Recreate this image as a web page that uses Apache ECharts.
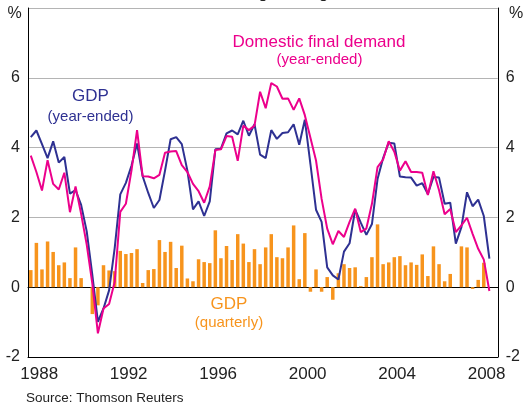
<!DOCTYPE html>
<html>
<head>
<meta charset="utf-8">
<script src="https://cdn.jsdelivr.net/npm/echarts@6/dist/echarts.min.js"></script>
<style>
  html, body { margin: 0; padding: 0; background: #fff; }
  #main { width: 523px; height: 407px; }
</style>
</head>
<body>
<div id="main"></div>
<script>
// year labels on the bottom axis, one category per year
const years = ['1988', '1989', '1990', '1991', '1992', '1993', '1994', '1995', '1996', '1997',
  '1998', '1999', '2000', '2001', '2002', '2003', '2004', '2005', '2006', '2007', '2008'];

// quarters 1988Q1 .. 2008Q4 (data ends at 2008Q3)
const quarters = [];
years.forEach(function (y) {
  ['Q1', 'Q2', 'Q3', 'Q4'].forEach(function (q) { quarters.push(y + q); });
});

// GDP, quarterly % change (bars)
const gdpQuarterly = [
  0.49, 1.27, 0.51, 1.31, 1.01, 0.63, 0.71, 0.26, 1.14, 0.26,
  0.00, -0.77, -0.52, 0.63, 0.48, 0.46, 1.04, 0.95, 0.98, 1.09,
  0.12, 0.49, 0.52, 1.35, 1.01, 1.30, 0.55, 1.19, 0.25, 0.17,
  0.80, 0.72, 0.69, 1.63, 0.83, 1.18, 0.78, 1.52, 1.25, 0.72,
  1.09, 0.66, 1.14, 1.52, 0.86, 0.83, 1.14, 1.77, 0.23, 1.55,
  -0.13, 0.51, -0.13, 0.29, -0.36, 0.40, 0.66, 0.55, 0.57, 0.03,
  0.29, 0.86, 1.80, 0.66, 0.71, 0.86, 0.89, 0.63, 0.71, 0.64,
  0.94, 0.32, 1.17, 0.66, 0.17, 0.38, 0.00, 1.17, 1.14, -0.05,
  0.21, 0.70, 0.00
];

// GDP, year-ended % change
const gdpYearEnded = [
  4.30, 4.49, 4.10, 3.70, 4.18, 3.57, 3.73, 2.68, 2.78, 2.36,
  1.60, 0.35, -0.99, -0.61, -0.09, 1.12, 2.66, 2.99, 3.48, 4.12,
  3.18, 2.70, 2.27, 2.50, 3.34, 4.24, 4.30, 4.10, 3.34, 2.23,
  2.46, 2.04, 2.46, 3.95, 3.97, 4.41, 4.49, 4.38, 4.77, 4.34,
  4.67, 3.80, 3.70, 4.50, 4.25, 4.42, 4.44, 4.67, 4.08, 4.80,
  3.53, 2.22, 1.87, 0.57, 0.34, 0.22, 1.02, 1.26, 2.22, 1.85,
  1.50, 1.81, 3.10, 3.70, 4.14, 4.12, 3.17, 3.15, 3.14, 2.91,
  2.98, 2.67, 3.16, 3.14, 2.39, 2.42, 1.25, 1.72, 2.72, 2.32,
  2.51, 2.04, 0.82
];

// Domestic final demand, year-ended % change
const dfdYearEnded = [
  3.77, 3.30, 2.77, 3.64, 2.96, 2.80, 3.28, 2.15, 2.89, 2.10,
  1.22, 0.10, -1.32, -0.61, -0.48, 0.15, 2.16, 2.39, 3.34, 4.50,
  3.18, 3.17, 3.12, 3.22, 3.85, 3.89, 3.90, 3.50, 3.30, 2.96,
  2.75, 2.42, 2.89, 3.93, 3.95, 4.33, 4.31, 3.62, 4.63, 4.50,
  4.63, 5.60, 5.13, 5.85, 5.75, 5.40, 5.41, 5.08, 5.41, 4.93,
  4.28, 3.63, 2.53, 1.68, 1.23, 1.61, 1.44, 1.87, 2.25, 1.58,
  1.68, 2.39, 3.44, 3.66, 4.18, 3.88, 3.34, 3.61, 3.30, 3.30,
  3.28, 2.64, 3.32, 2.78, 2.09, 2.24, 1.58, 1.77, 1.99, 1.53,
  1.10, 0.79, -0.11
];

const font = 'Liberation Sans, Arial, sans-serif';
const navy = '#2e3192';
const pink = '#ec008c';
const orange = '#f7941d';

const chart = echarts.init(document.getElementById('main'));

function yAxisOpt(pos, grid) {
  return {
    type: 'value',
    position: pos,
    min: -2,
    max: 8,
    interval: 2,
    axisLine: { show: true, lineStyle: { color: '#000', width: 1 } },
    axisTick: { show: false },
    axisLabel: {
      fontFamily: font, fontSize: 16, color: '#222', margin: 8,
      formatter: function (v) { return v === 8 ? '' : String(v); }
    },
    splitLine: { show: grid, lineStyle: { color: '#b4b4b4', width: 1 } }
  };
}

chart.setOption({
  animation: false,
  grid: { left: 28, right: 23, top: 8, bottom: 50 },
  xAxis: [
    {
      // quarterly axis for the data, only its line is shown (at zero)
      type: 'category',
      data: quarters,
      position: 'top',
      axisLine: { onZero: true, lineStyle: { color: '#000', width: 1 } },
      axisTick: { show: false },
      axisLabel: { show: false },
      splitLine: { show: false }
    },
    {
      type: 'category',
      data: years,
      position: 'bottom',
      axisLine: { onZero: false, lineStyle: { color: '#000', width: 1 } },
      axisTick: { inside: true, length: 5, interval: 0, lineStyle: { color: '#000' } },
      axisLabel: { interval: 3, fontFamily: font, fontSize: 17, color: '#222', margin: 9 },
      splitLine: { show: false }
    }
  ],
  yAxis: [yAxisOpt('left', true), yAxisOpt('right', false)],
  series: [
    {
      name: 'GDP (quarterly)',
      type: 'bar',
      xAxisIndex: 0,
      yAxisIndex: 0,
      data: gdpQuarterly,
      barWidth: 3.5,
      itemStyle: { color: orange },
      z: 2
    },
    {
      name: 'GDP (year-ended)',
      type: 'line',
      xAxisIndex: 0,
      yAxisIndex: 0,
      data: gdpYearEnded,
      symbol: 'none',
      lineStyle: { color: navy, width: 2 },
      z: 3
    },
    {
      name: 'Domestic final demand (year-ended)',
      type: 'line',
      xAxisIndex: 0,
      yAxisIndex: 0,
      data: dfdYearEnded,
      symbol: 'none',
      lineStyle: { color: pink, width: 2 },
      z: 4
    }
  ],
  graphic: [
    { type: 'text', x: 264, y: -6.5, style: { text: 'Percentage change', font: '17px ' + font, fill: '#222', align: 'center', verticalAlign: 'middle' } },
    { type: 'text', x: 14.5, y: 14, style: { text: '%', font: '16px ' + font, fill: '#222', align: 'center', verticalAlign: 'middle' } },
    { type: 'text', x: 516, y: 14, style: { text: '%', font: '16px ' + font, fill: '#222', align: 'center', verticalAlign: 'middle' } },
    { type: 'text', x: 319, y: 42, style: { text: 'Domestic final demand', font: '17px ' + font, fill: pink, align: 'center', verticalAlign: 'middle' } },
    { type: 'text', x: 319.5, y: 60, style: { text: '(year-ended)', font: '15px ' + font, fill: pink, align: 'center', verticalAlign: 'middle' } },
    { type: 'text', x: 90.5, y: 96, style: { text: 'GDP', font: '17px ' + font, fill: navy, align: 'center', verticalAlign: 'middle' } },
    { type: 'text', x: 90.5, y: 116.5, style: { text: '(year-ended)', font: '15px ' + font, fill: navy, align: 'center', verticalAlign: 'middle' } },
    { type: 'text', x: 229, y: 304, style: { text: 'GDP', font: '17px ' + font, fill: orange, align: 'center', verticalAlign: 'middle' } },
    { type: 'text', x: 229, y: 323, style: { text: '(quarterly)', font: '15px ' + font, fill: orange, align: 'center', verticalAlign: 'middle' } },
    { type: 'text', x: 26, y: 398, style: { text: 'Source: Thomson Reuters', font: '13.5px ' + font, fill: '#222', align: 'left', verticalAlign: 'middle' } }
  ]
});
</script>
</body>
</html>
